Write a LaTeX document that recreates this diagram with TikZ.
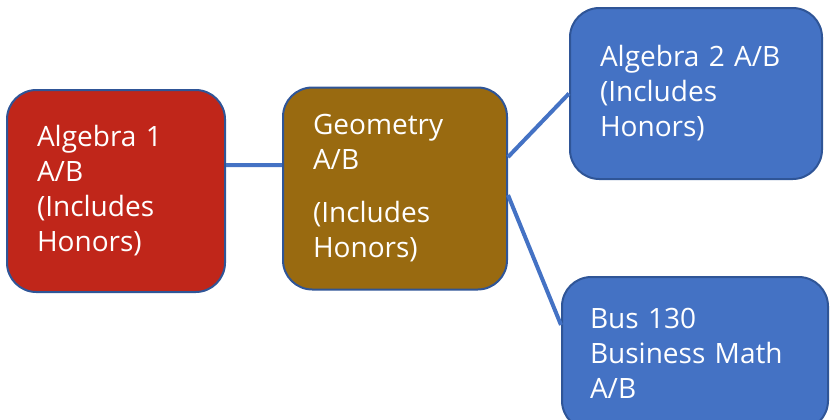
\documentclass[tikz,border=0pt]{standalone}
\usepackage{fontspec}
\setsansfont{Open Sans}
\definecolor{algred}{HTML}{C0261A}
\definecolor{geobrown}{HTML}{996A10}
\definecolor{nodeblue}{HTML}{4472C4}
\definecolor{edgeblue}{HTML}{2F5597}
\begin{document}
\begin{tikzpicture}[x=0.75pt,y=-0.75pt,
        main node/.style={draw=edgeblue,line width=1.5pt,rounded corners=22pt,
            text=white,align=left,inner sep=0pt,
            font=\sffamily\fontsize{21}{26.25}\selectfont},
        link/.style={draw=nodeblue,line width=3pt}]

        \clip (0,0) rectangle (831,419);

        % Define vertices
        \node[main node,fill=algred,minimum width=163.5pt,minimum height=151.5pt,
              text width=118.5pt] (alg1) at (116,191)
              {Algebra 1\\A/B\\(Includes\\Honors)};
        \node[main node,fill=geobrown,minimum width=168pt,minimum height=151.5pt,
              text width=123pt] (geo) at (395,188.5)
              {Geometry\\A/B\\[13.5pt](Includes\\Honors)};
        \node[main node,fill=nodeblue,minimum width=189pt,minimum height=128.25pt,
              text width=144pt] (alg2) at (696,93.5)
              {Algebra 2 A/B\\(Includes\\Honors)};
        \node[main node,fill=nodeblue,minimum width=199.5pt,minimum height=114.75pt,
              text width=157.5pt] (bus) at (695,353.5)
              {Bus 130\\Business Math\\A/B};

        % Draw edges
        \draw[link] ([yshift=19.5pt]alg1.east) -- ([yshift=17.6pt]geo.west);
        \draw[link] ([yshift=23.6pt]geo.east) -- (alg2.west);
        \draw[link] ([yshift=-4.9pt]geo.east) -- ([yshift=21.4pt]bus.west);

\end{tikzpicture}
\end{document}
